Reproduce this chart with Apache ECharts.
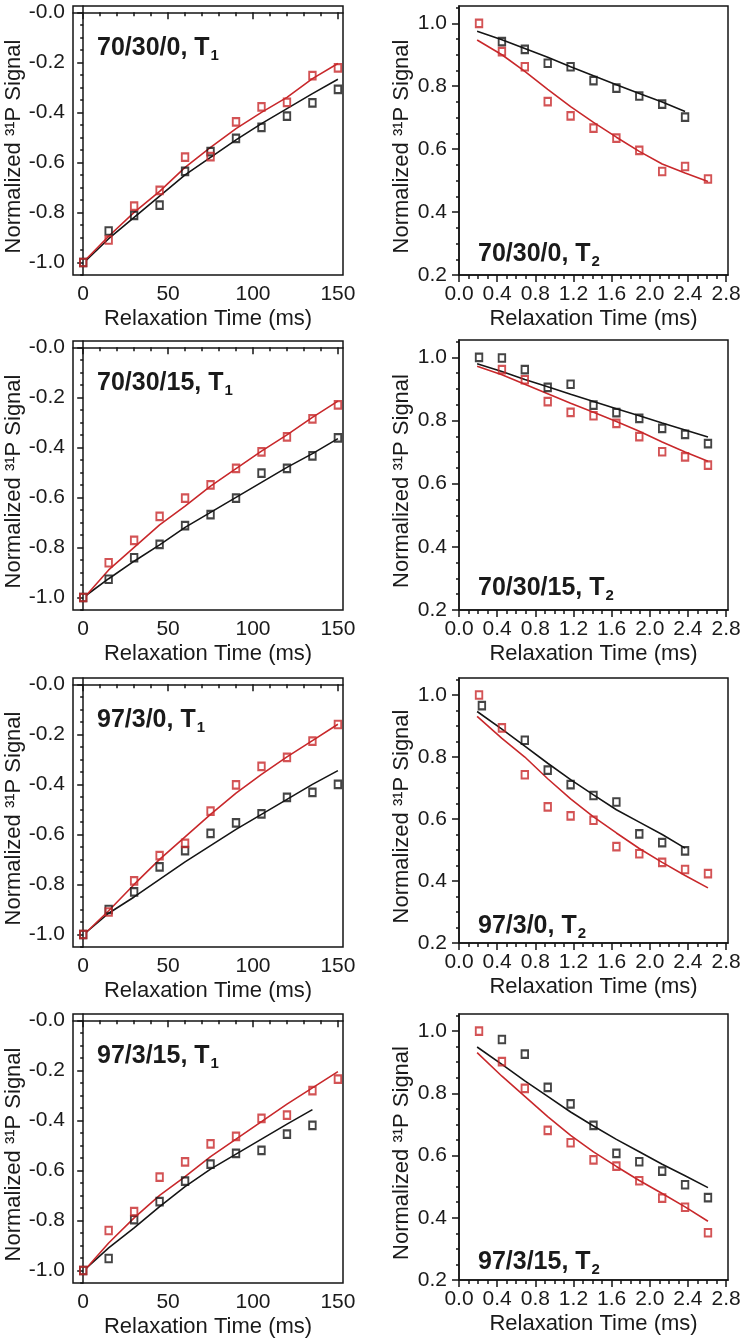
<!DOCTYPE html>
<html><head><meta charset="utf-8">
<script src="https://cdn.jsdelivr.net/npm/echarts@6/dist/echarts.min.js"></script>
<style>html,body{margin:0;padding:0;background:#fff}#c{width:747px;height:1343px}</style>
</head><body><div id="c"></div><script>
// ---------- DATA ----------
const T1_TIME = [0, 15, 30, 45, 60, 75, 90, 105, 120, 135, 150];
const T1_FIT_TIME = [2, 15, 30, 45, 60, 75, 90, 105, 120, 135, 150];
const T2_TIME = [0.21, 0.45, 0.69, 0.93, 1.17, 1.41, 1.65, 1.89, 2.13, 2.37, 2.61];
const T2_FIT_TIME = [0.19, 0.45, 0.69, 0.93, 1.17, 1.41, 1.65, 1.89, 2.13, 2.37, 2.61];
const T2_TIME_97_3_0_BLACK = [0.24, 0.69, 0.93, 1.17, 1.41, 1.65, 1.89, 2.13, 2.37];

const T1_X_LABELS = [0, 50, 100, 150];
const T1_Y_LABELS = [-1.0, -0.8, -0.6, -0.4, -0.2, 0.0];
const T2_X_LABELS = [0.0, 0.4, 0.8, 1.2, 1.6, 2.0, 2.4, 2.8];
const T2_Y_LABELS = [0.2, 0.4, 0.6, 0.8, 1.0];

// 70/30/0, T1
const a_T1_black = [-1.0, -0.874, -0.812, -0.771, -0.636, -0.557, -0.504, -0.460, -0.415, -0.362, -0.308];
const a_T1_red = [-1.0, -0.91, -0.775, -0.712, -0.579, -0.577, -0.438, -0.378, -0.36, -0.253, -0.222];
const a_T1_blackFit = [-0.99, -0.905, -0.82, -0.735, -0.65, -0.58, -0.51, -0.445, -0.385, -0.325, -0.268];
const a_T1_redFit = [-0.985, -0.895, -0.80, -0.716, -0.62, -0.54, -0.465, -0.40, -0.34, -0.265, -0.205];
// 70/30/15, T1
const b_T1_black = [-1.0, -0.927, -0.841, -0.788, -0.713, -0.669, -0.603, -0.503, -0.484, -0.434, -0.362];
const b_T1_red = [-1.0, -0.861, -0.772, -0.676, -0.603, -0.550, -0.484, -0.418, -0.358, -0.286, -0.230];
const b_T1_blackFit = [-0.99, -0.925, -0.855, -0.79, -0.72, -0.66, -0.60, -0.54, -0.48, -0.425, -0.365];
const b_T1_redFit = [-0.99, -0.89, -0.80, -0.71, -0.635, -0.555, -0.485, -0.415, -0.35, -0.28, -0.215];
// 97/3/0, T1
const c_T1_black = [-1.0, -0.90, -0.83, -0.73, -0.665, -0.596, -0.554, -0.518, -0.452, -0.432, -0.40];
const c_T1_red = [-1.0, -0.91, -0.786, -0.685, -0.636, -0.507, -0.402, -0.328, -0.292, -0.227, -0.161];
const c_T1_blackFit = [-0.99, -0.915, -0.85, -0.78, -0.71, -0.645, -0.58, -0.52, -0.46, -0.40, -0.345];
const c_T1_redFit = [-0.99, -0.905, -0.80, -0.70, -0.61, -0.52, -0.435, -0.36, -0.29, -0.225, -0.16];
// 97/3/15, T1
const d_T1_black = [-1.0, -0.952, -0.797, -0.725, -0.643, -0.575, -0.532, -0.52, -0.455, -0.42];
const d_T1_red = [-1.0, -0.84, -0.765, -0.627, -0.566, -0.494, -0.464, -0.392, -0.379, -0.281, -0.235];
const d_T1_blackFit = [-0.99, -0.91, -0.83, -0.745, -0.665, -0.595, -0.535, -0.475, -0.415, -0.357];
const d_T1_redFit = [-0.99, -0.89, -0.79, -0.70, -0.625, -0.545, -0.475, -0.405, -0.335, -0.27, -0.205];

// 70/30/0, T2
const a_T2_black = [null, 0.942, 0.917, 0.873, 0.862, 0.818, 0.794, 0.769, 0.743, 0.702, null];
const a_T2_red = [1.0, 0.91, 0.862, 0.751, 0.706, 0.667, 0.635, 0.596, 0.529, 0.545, 0.505];
const a_T2_blackFit = [0.975, 0.948, 0.92, 0.892, 0.862, 0.833, 0.805, 0.777, 0.75, 0.72];
const a_T2_redFit = [0.947, 0.9, 0.847, 0.79, 0.735, 0.685, 0.638, 0.593, 0.553, 0.524, 0.497];
// 70/30/15, T2
const b_T2_black = [1.0, 0.998, 0.961, 0.905, 0.915, 0.849, 0.825, 0.807, 0.775, 0.756, 0.727];
const b_T2_red = [null, 0.961, 0.929, 0.86, 0.826, 0.815, 0.791, 0.749, 0.701, 0.685, 0.659];
const b_T2_blackFit = [0.98, 0.955, 0.93, 0.907, 0.883, 0.86, 0.837, 0.815, 0.792, 0.77, 0.748];
const b_T2_redFit = [0.972, 0.945, 0.915, 0.885, 0.855, 0.826, 0.797, 0.766, 0.732, 0.70, 0.671];
// 97/3/0, T2
const c_T2_black = [0.966, 0.854, 0.758, 0.711, 0.676, 0.655, 0.552, 0.524, 0.497];
const c_T2_red = [1.0, 0.894, 0.743, 0.639, 0.61, 0.596, 0.511, 0.488, 0.46, 0.437, 0.424];
const c_T2_blackFit = [0.947, 0.89, 0.835, 0.78, 0.727, 0.678, 0.63, 0.59, 0.55, 0.506];
const c_T2_redFit = [0.931, 0.86, 0.80, 0.73, 0.665, 0.607, 0.555, 0.505, 0.46, 0.418, 0.378];
// 97/3/15, T2
const d_T2_black = [null, 0.973, 0.926, 0.819, 0.766, 0.697, 0.607, 0.58, 0.55, 0.506, 0.465];
const d_T2_red = [1.0, 0.902, 0.816, 0.681, 0.641, 0.586, 0.566, 0.519, 0.463, 0.434, 0.352];
const d_T2_blackFit = [0.949, 0.893, 0.84, 0.79, 0.74, 0.695, 0.652, 0.612, 0.572, 0.535, 0.497];
const d_T2_redFit = [0.931, 0.855, 0.79, 0.725, 0.665, 0.612, 0.565, 0.52, 0.478, 0.435, 0.389];

const PANEL_TITLES = ['70/30/0', '70/30/15', '97/3/0', '97/3/15'];

// ---------- BUILD ----------
const zip = (xs, ys) => ys.map((y, i) => [xs[i], y]).filter(p => p[1] !== null && p[0] !== undefined);
const FONT = '"Liberation Sans", Arial, Helvetica, sans-serif';
const TXT = '#1a1a1a';
const RED = '#c8282b';
const BLK = '#151515';

function steps(a, b, s) {
  const out = [];
  for (let i = 0; ; i++) { const v = +(a + i * s).toFixed(4); if (v > b + 1e-9) break; out.push(v); }
  return out;
}

const panels = [
  {kind: 'T1', name: PANEL_TITLES[0], box: {left: 73, top: 6, width: 270, height: 269},
   bx: T1_TIME, b: a_T1_black, rx: T1_TIME, r: a_T1_red, bfx: T1_FIT_TIME, bf: a_T1_blackFit, rfx: T1_FIT_TIME, rf: a_T1_redFit},
  {kind: 'T2', name: PANEL_TITLES[0], box: {left: 459, top: 6, width: 269, height: 269},
   bx: T2_TIME, b: a_T2_black, rx: T2_TIME, r: a_T2_red, bfx: T2_FIT_TIME, bf: a_T2_blackFit, rfx: T2_FIT_TIME, rf: a_T2_redFit},
  {kind: 'T1', name: PANEL_TITLES[1], box: {left: 73, top: 341, width: 270, height: 269},
   bx: T1_TIME, b: b_T1_black, rx: T1_TIME, r: b_T1_red, bfx: T1_FIT_TIME, bf: b_T1_blackFit, rfx: T1_FIT_TIME, rf: b_T1_redFit},
  {kind: 'T2', name: PANEL_TITLES[1], box: {left: 459, top: 340, width: 269, height: 270},
   bx: T2_TIME, b: b_T2_black, rx: T2_TIME, r: b_T2_red, bfx: T2_FIT_TIME, bf: b_T2_blackFit, rfx: T2_FIT_TIME, rf: b_T2_redFit},
  {kind: 'T1', name: PANEL_TITLES[2], box: {left: 73, top: 678, width: 270, height: 269},
   bx: T1_TIME, b: c_T1_black, rx: T1_TIME, r: c_T1_red, bfx: T1_FIT_TIME, bf: c_T1_blackFit, rfx: T1_FIT_TIME, rf: c_T1_redFit},
  {kind: 'T2', name: PANEL_TITLES[2], box: {left: 459, top: 678, width: 269, height: 265},
   bx: T2_TIME_97_3_0_BLACK, b: c_T2_black, rx: T2_TIME, r: c_T2_red, bfx: T2_FIT_TIME, bf: c_T2_blackFit, rfx: T2_FIT_TIME, rf: c_T2_redFit},
  {kind: 'T1', name: PANEL_TITLES[3], box: {left: 73, top: 1014, width: 270, height: 269},
   bx: T1_TIME, b: d_T1_black, rx: T1_TIME, r: d_T1_red, bfx: T1_FIT_TIME, bf: d_T1_blackFit, rfx: T1_FIT_TIME, rf: d_T1_redFit},
  {kind: 'T2', name: PANEL_TITLES[3], box: {left: 459, top: 1014, width: 269, height: 266},
   bx: T2_TIME, b: d_T2_black, rx: T2_TIME, r: d_T2_red, bfx: T2_FIT_TIME, bf: d_T2_blackFit, rfx: T2_FIT_TIME, rf: d_T2_redFit}
];

const grid = [], xAxis = [], yAxis = [], series = [], title = [];
const labelFont = {fontSize: 21, fontFamily: FONT, color: TXT};
const axisLineStyle = {show: true, lineStyle: {color: BLK, width: 1.5}};

panels.forEach((p, g) => {
  grid.push({left: p.box.left, top: p.box.top, width: p.box.width, height: p.box.height,
    show: true, borderColor: BLK, borderWidth: 1.5, backgroundColor: 'transparent', containLabel: false});
  const isT1 = p.kind === 'T1';
  const xr = isT1 ? {min: -6, max: 153} : {min: 0, max: 2.82};
  const yr = isT1 ? {min: -1.05, max: 0.025} : {min: 0.2, max: 1.055};
  const xMaj = isT1 ? T1_X_LABELS : T2_X_LABELS;
  const yMaj = isT1 ? T1_Y_LABELS : T2_Y_LABELS;
  const xMin = isT1 ? steps(0, 150, 10) : steps(0, 2.8, 0.1);
  const yMin = isT1 ? steps(-1.05, 0, 0.05) : steps(0.2, 1.05, 0.05);
  const xFmt = isT1 ? (v => String(Math.round(v))) : (v => v.toFixed(1));
  const yFmt = isT1 ? (v => '-' + Math.abs(v).toFixed(1)) : (v => v.toFixed(1));
  // major x
  xAxis.push({type: 'value', gridIndex: g, position: 'bottom', ...xr,
    name: 'Relaxation Time (ms)', nameLocation: 'middle', nameGap: 33,
    nameTextStyle: {fontSize: 22, fontFamily: FONT, color: TXT},
    axisLine: axisLineStyle, splitLine: {show: false},
    axisTick: {show: true, length: 7, lineStyle: {color: BLK, width: 1.5}, customValues: xMaj},
    axisLabel: {...labelFont, margin: 9, customValues: xMaj, formatter: xFmt}});
  // minor x
  xAxis.push({type: 'value', gridIndex: g, position: 'bottom', ...xr,
    axisLine: {show: false}, splitLine: {show: false},
    axisTick: {show: true, length: 4, lineStyle: {color: BLK, width: 1.5}, customValues: xMin},
    axisLabel: {show: false}});
  yAxis.push({type: 'value', gridIndex: g, position: 'left', ...yr,
    name: 'Normalized \u00B3\u00B9P Signal', nameLocation: 'middle', nameGap: 46, nameRotate: 90,
    nameTextStyle: {fontSize: 22, fontFamily: FONT, color: TXT, padding: [0, 12, 0, 0]},
    axisLine: axisLineStyle, splitLine: {show: false},
    axisTick: {show: true, length: isT1 ? 6 : 7, lineStyle: {color: BLK, width: 1.5}, customValues: yMaj},
    axisLabel: {...labelFont, margin: isT1 ? 8 : 12, customValues: yMaj, formatter: yFmt}});
  yAxis.push({type: 'value', gridIndex: g, position: 'left', ...yr,
    axisLine: {show: false}, splitLine: {show: false},
    axisTick: {show: true, length: 3, lineStyle: {color: BLK, width: 1.5}, customValues: yMin},
    axisLabel: {show: false}});
  const xi = 2 * g, yi = 2 * g;
  const lineS = (data, color) => ({type: 'line', xAxisIndex: xi, yAxisIndex: yi, data, showSymbol: false,
    smooth: false, lineStyle: {color, width: 1.6}, z: 2, silent: true});
  const scatS = (data, color) => ({type: 'scatter', xAxisIndex: xi, yAxisIndex: yi, data, symbol: 'rect',
    symbolSize: [6.5, 7.5], itemStyle: {color: 'rgba(0,0,0,0)', borderColor: color, borderWidth: 2}, z: 3, silent: true});
  series.push(lineS(zip(p.bfx, p.bf), BLK));
  series.push(lineS(zip(p.rfx, p.rf), RED));
  series.push(scatS(zip(p.bx, p.b), BLK));
  series.push(scatS(zip(p.rx, p.r), RED));
  const sub = isT1 ? '1' : '2';
  const tpos = isT1 ? {left: p.box.left + 19, top: p.box.top + 22} : {left: p.box.left + 14, top: p.box.top + 228};
  title.push({...tpos, text: '{b|' + p.name + ', T}{s|' + sub + '}',
    textStyle: {rich: {
      b: {fontSize: 25, fontWeight: 'bold', fontFamily: FONT, color: TXT, lineHeight: 30},
      s: {fontSize: 15, fontWeight: 'bold', fontFamily: FONT, color: TXT, lineHeight: 30, verticalAlign: 'bottom', padding: [12, 0, 0, 1]}
    }}});
});

const chart = echarts.init(document.getElementById('c'), null, {renderer: 'canvas'});
chart.setOption({animation: false, backgroundColor: '#fff', grid, xAxis, yAxis, series, title});
</script></body></html>
